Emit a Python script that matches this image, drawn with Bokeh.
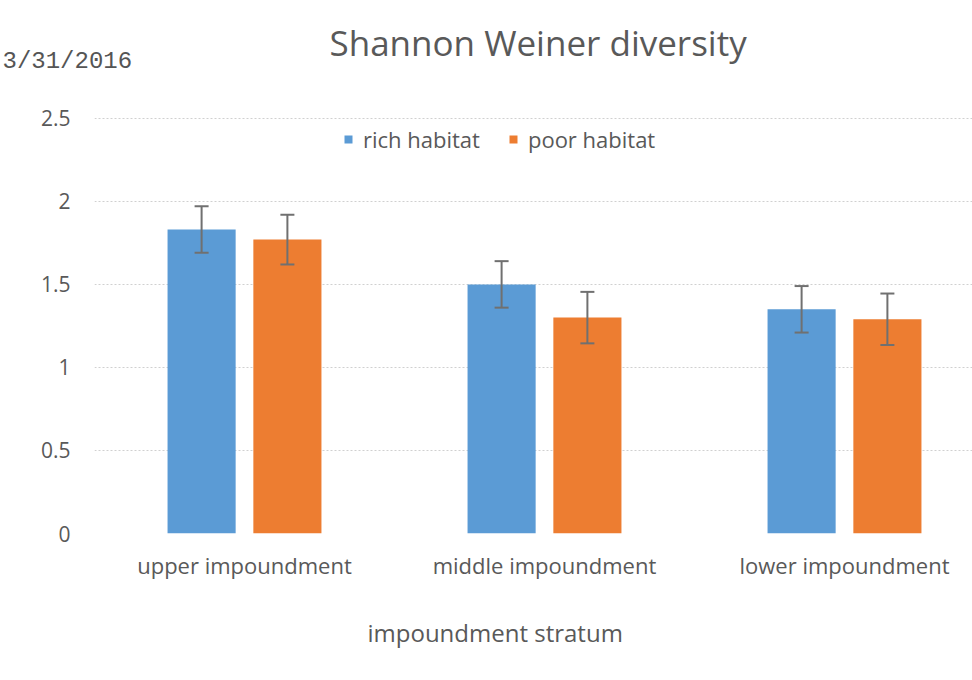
from bokeh.plotting import figure
from bokeh.models import (ColumnDataSource, Range1d, FixedTicker, Legend, LegendItem,
                          Whisker, TeeHead, Title)
from bokeh.embed import file_html
from bokeh.resources import INLINE

# ---- data ----
categories = ["upper impoundment", "middle impoundment", "lower impoundment"]
series = ["rich habitat", "poor habitat"]
rich = [1.83, 1.50, 1.35]
poor = [1.77, 1.30, 1.29]
rich_err = [0.14, 0.14, 0.14]
poor_err = [0.15, 0.155, 0.155]
y_ticks = [0, 0.5, 1, 1.5, 2, 2.5]
y_tick_labels = ["0", "0.5", "1", "1.5", "2", "2.5"]
title_text = "Shannon Weiner diversity"
x_title = "impoundment stratum"
date_text = "3/31/2016"

colors = ["#5b9bd5", "#ed7d31"]
FONT = "Open Sans"
TXT = "#595959"

n = len(categories)
centers = [i + 0.5 for i in range(n)]
off = 0.143
bw = 0.227

src_r = ColumnDataSource(dict(x=[c - off for c in centers], top=rich,
                              up=[v + e for v, e in zip(rich, rich_err)],
                              lo=[v - e for v, e in zip(rich, rich_err)]))
src_p = ColumnDataSource(dict(x=[c + off for c in centers], top=poor,
                              up=[v + e for v, e in zip(poor, poor_err)],
                              lo=[v - e for v, e in zip(poor, poor_err)]))

p = figure(width=972, height=680, output_backend="svg", toolbar_location=None,
           x_range=Range1d(0, 878 / 300), y_range=Range1d(0, 2.505),
           min_border_left=94, min_border_right=0, min_border_top=117, min_border_bottom=147)
p.outline_line_color = None
p.background_fill_color = "white"
p.border_fill_color = "white"

r1 = p.vbar(x="x", top="top", width=bw, bottom=0, source=src_r, fill_color=colors[0], line_color=None)
r2 = p.vbar(x="x", top="top", width=bw, bottom=0, source=src_p, fill_color=colors[1], line_color=None)

for s in (src_r, src_p):
    w = Whisker(base="x", upper="up", lower="lo", source=s, line_color="#707070", line_width=2,
                level="annotation",
                upper_head=TeeHead(size=14, line_color="#707070", line_width=2),
                lower_head=TeeHead(size=14, line_color="#707070", line_width=2))
    p.add_layout(w)

# axes
p.xaxis.ticker = FixedTicker(ticks=centers)
p.xaxis.major_label_overrides = {c: lab for c, lab in zip(centers, categories)}
p.yaxis.ticker = FixedTicker(ticks=y_ticks)
p.yaxis.major_label_overrides = {t: lab for t, lab in zip(y_ticks, y_tick_labels)}
for ax in (p.xaxis, p.yaxis):
    ax.axis_line_color = None
    ax.major_tick_line_color = None
    ax.minor_tick_line_color = None
    ax.major_label_text_font = FONT
    ax.major_label_text_color = TXT
p.xaxis.major_label_text_font_size = "22px"
p.yaxis.major_label_text_font_size = "21px"
p.xaxis.major_label_standoff = 10
p.yaxis.major_label_standoff = 18

p.xgrid.visible = False
p.ygrid.grid_line_color = "#d0d0d0"
p.ygrid.grid_line_dash = "2 2"
p.ygrid.grid_line_width = 1

legend = Legend(items=[LegendItem(label=series[0], renderers=[r1]),
                       LegendItem(label=series[1], renderers=[r2])],
                orientation="horizontal", location=(249, 379),
                label_text_font=FONT, label_text_font_size="22px", label_text_color=TXT,
                glyph_width=10, glyph_height=10, label_standoff=10, spacing=28,
                padding=0, margin=0, border_line_color=None, background_fill_alpha=0)
p.add_layout(legend, "center")

# titles
p.title.text = title_text
p.title.align = "left"
p.title.offset = 235
p.title.standoff = -126
p.title.text_font = FONT
p.title.text_font_size = "35px"
p.title.text_font_style = "normal"
p.title.text_color = TXT

p.add_layout(Title(text=date_text, align="left", offset=-92, standoff=86, text_font="Liberation Mono",
                   text_font_size="24px", text_font_style="normal", text_color="#555555"), "above")
p.add_layout(Title(text=x_title, align="left", offset=273, text_font=FONT, standoff=62,
                   text_font_size="24px", text_font_style="normal", text_color=TXT), "below")

open("out.html", "w").write(file_html(p, INLINE))
